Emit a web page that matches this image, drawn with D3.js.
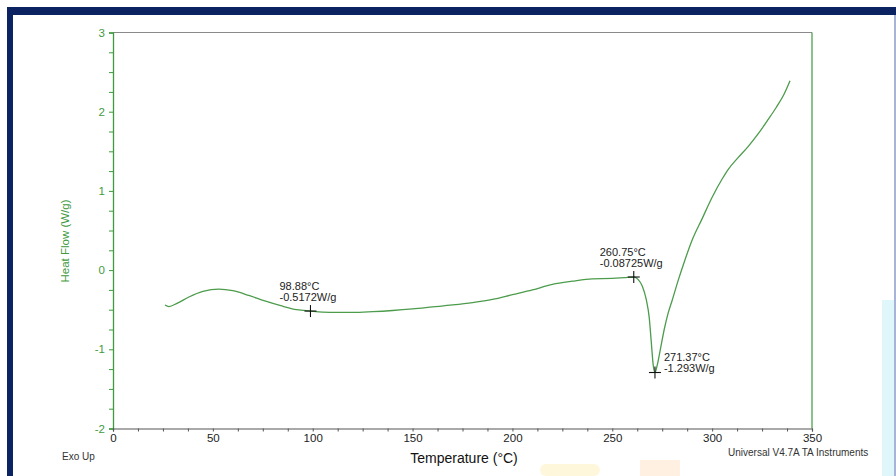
<!DOCTYPE html>
<html><head><meta charset="utf-8">
<script src="https://cdn.jsdelivr.net/npm/d3@7"></script>
<style>html,body{margin:0;padding:0;background:#fff;}svg{display:block;font-family:"Liberation Sans",Arial,sans-serif;}</style>
</head><body>
<script>
const temperature = [26, 28, 32, 38, 45, 53, 60, 68, 76, 84, 92, 98.88, 105, 112, 120, 130, 140, 150, 160, 170, 180, 190, 200, 210, 220, 230, 240, 250, 256, 260.75, 263, 265, 267, 268.5, 269.5, 270.5, 271.37, 272.5, 274, 276, 278, 280, 283, 286, 290, 295, 300, 305, 308, 313, 318, 323, 328, 332, 336, 339];
const heatFlow = [-0.44, -0.46, -0.42, -0.34, -0.27, -0.24, -0.26, -0.32, -0.39, -0.45, -0.50, -0.517, -0.53, -0.535, -0.535, -0.525, -0.51, -0.49, -0.465, -0.44, -0.41, -0.37, -0.31, -0.25, -0.18, -0.14, -0.11, -0.105, -0.095, -0.087, -0.12, -0.2, -0.37, -0.6, -0.9, -1.2, -1.293, -1.2, -1.01, -0.75, -0.54, -0.38, -0.13, 0.1, 0.38, 0.65, 0.92, 1.15, 1.27, 1.42, 1.56, 1.72, 1.9, 2.05, 2.22, 2.39];
const markerT = [98.88, 260.75, 271.37];
const markerV = [-0.5172, -0.08725, -1.293];
const markerLabelT = ["98.88°C", "260.75°C", "271.37°C"];
const markerLabelV = ["-0.5172W/g", "-0.08725W/g", "-1.293W/g"];
const xTicks = [0, 50, 100, 150, 200, 250, 300, 350];
const yTicks = [-2, -1, 0, 1, 2, 3];

const W = 896, H = 476;
const svg = d3.select("body").append("svg").attr("width", W).attr("height", H);
const green = "#3f9a3f";

// frame / watermark
svg.append("rect").attr("x",0).attr("y",0).attr("width",W).attr("height",H).attr("fill","#fff");
svg.append("rect").attr("x",540).attr("y",464).attr("width",60).attr("height",12).attr("fill","#fff7dc").attr("rx",6);
svg.append("rect").attr("x",640).attr("y",460).attr("width",40).attr("height",16).attr("fill","#fff0e2");
svg.append("rect").attr("x",882).attr("y",300).attr("width",12).attr("height",176).attr("fill","#dff6fb");
svg.append("rect").attr("x",7).attr("y",7).attr("width",889).attr("height",8).attr("fill","#0b2461");
svg.append("rect").attr("x",7).attr("y",7).attr("width",6).attr("height",469).attr("fill","#0b2461");
svg.append("rect").attr("x",894).attr("y",15).attr("width",2).attr("height",461).attr("fill","#a9b3d6");

const x = d3.scaleLinear().domain([0, 350]).range([113, 812]);
const y = d3.scaleLinear().domain([-2, 3]).range([428.5, 32.5]);

// top line & right line
svg.append("line").attr("x1",x(0)).attr("x2",x(350)).attr("y1",y(3)).attr("y2",y(3)).attr("stroke","#8a8a8a").attr("stroke-width",1.2);
svg.append("line").attr("x1",x(350)).attr("x2",x(350)).attr("y1",y(3)).attr("y2",y(-2)).attr("stroke",green).attr("stroke-width",1.2);

// Y axis
const yAx = svg.append("g").attr("transform",`translate(${x(0)},0)`)
  .call(d3.axisLeft(y).tickValues(d3.range(-2, 3.01, 0.25)).tickSize(4).tickFormat(d => yTicks.includes(d) ? String(d) : ""));
yAx.select(".domain").attr("stroke",green).attr("stroke-width",1.3);
yAx.selectAll(".tick line").attr("stroke",green);
yAx.selectAll(".tick text").attr("fill",green).attr("font-size",11.5).attr("x",-8);

// X axis
const xAx = svg.append("g").attr("transform",`translate(0,${y(-2)})`)
  .call(d3.axisBottom(x).tickValues(d3.range(0, 350.01, 12.5)).tickSize(3).tickFormat(d => xTicks.includes(d) ? String(d) : ""));
xAx.select(".domain").attr("stroke","#555").attr("stroke-width",1.2);
xAx.selectAll(".tick line").attr("stroke","#555");
xAx.selectAll(".tick text").attr("fill","#222").attr("font-size",11.5).attr("y",5);

// curve
const pts = temperature.map((t,i)=>[t, heatFlow[i]]);
svg.append("path").datum(pts)
  .attr("d", d3.line().x(d=>x(d[0])).y(d=>y(d[1])).curve(d3.curveMonotoneX))
  .attr("fill","none").attr("stroke","#4c9c4c").attr("stroke-width",1.3);

// markers
const mk = svg.append("g");
markerT.forEach((t,i)=>{
  const cx = x(t), cy = y(markerV[i]);
  mk.append("line").attr("x1",cx-6).attr("x2",cx+6).attr("y1",cy).attr("y2",cy).attr("stroke","#111").attr("stroke-width",1.1);
  mk.append("line").attr("x1",cx).attr("x2",cx).attr("y1",cy-6).attr("y2",cy+6).attr("stroke","#111").attr("stroke-width",1.1);
  const dx = i === 2 ? 9 : (i === 0 ? -31 : -34);
  const dy = i === 2 ? -12 : -21;
  const tx = mk.append("text").attr("x",cx+dx).attr("y",cy+dy).attr("font-size",11).attr("fill","#222");
  tx.append("tspan").attr("x",cx+dx).text(markerLabelT[i]);
  tx.append("tspan").attr("x",cx+dx).attr("dy",11).text(markerLabelV[i]);
});

// labels
svg.append("text").attr("transform","translate(69,241) rotate(-90)").attr("text-anchor","middle")
  .attr("font-size",11.5).attr("fill",green).text("Heat Flow (W/g)");
svg.append("text").attr("x",464).attr("y",463).attr("text-anchor","middle").attr("font-size",14).attr("fill","#111").text("Temperature (°C)");
svg.append("text").attr("x",62).attr("y",460).attr("font-size",10).attr("fill","#333").text("Exo Up");
svg.append("text").attr("x",728).attr("y",456).attr("font-size",10).attr("fill","#333").text("Universal V4.7A TA Instruments");
svg.append("rect").attr("x",882).attr("y",440).attr("width",12).attr("height",24).attr("fill","#dff6fb");
</script>
</body></html>
